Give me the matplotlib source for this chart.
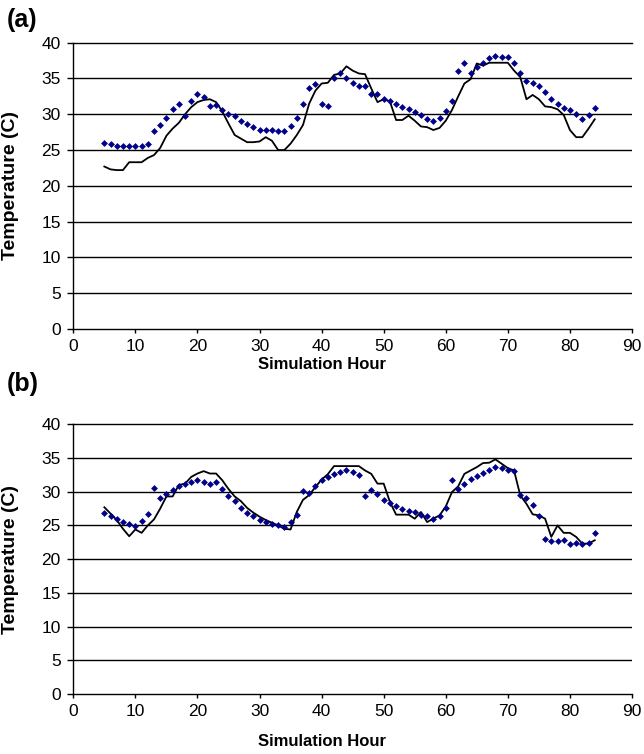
import matplotlib
matplotlib.use("Agg")
import matplotlib.pyplot as plt
import numpy as np

plt.rcParams['font.family'] = ['Liberation Sans', 'DejaVu Sans']

hours = list(range(5, 85))

# Panel (a)
a_measured = [26.0, 25.8, 25.5, 25.5, 25.5, 25.5, 25.5, 25.8, 27.6, 28.5,
              29.5, 30.7, 31.4, 29.7, 31.9, 32.8, 32.4, 31.1, 31.3, 30.6,
              30.05, 29.7, 29.1, 28.7, 28.2, 27.8,
              27.8, 27.8, 27.6, 27.6, 28.3, 29.5, 31.5, 33.7, 34.2, 31.4,
              31.2, 35.1, 35.8, 35.0, 34.4, 33.9, 33.9, 32.9, 32.9, 32.2,
              31.8, 31.4, 31.0, 30.7, 30.3, 29.9, 29.4, 29.1,
              29.5, 30.5, 31.8, 36.0, 37.1, 35.8, 36.6, 37.2, 37.9, 38.1,
              38.0, 38.0, 37.1, 35.8, 34.6, 34.3, 33.9, 33.1, 32.2, 31.5,
              30.9, 30.6, 30.0, 29.3, 29.9, 30.9]
a_simulated = [22.7, 22.3, 22.2, 22.2, 23.3, 23.3, 23.3, 23.9, 24.3, 25.3,
               27.0, 28.0, 28.8, 30.0, 31.0, 31.7, 32.0, 32.1, 31.7, 30.4,
               28.7, 27.1, 26.6, 26.1, 26.1,
               26.2, 26.8, 26.3, 25.0, 25.0, 25.9, 27.1, 28.5, 31.5, 33.3,
               34.3, 34.4, 35.5, 35.7, 36.7, 36.1, 35.7, 35.6, 33.6, 31.7,
               32.1, 31.8, 29.2, 29.2, 29.8, 29.1, 28.3, 28.2, 27.8,
               28.1, 29.1, 30.6, 32.5, 34.3, 34.9, 37.1, 36.8, 37.2, 37.2,
               37.2, 37.2, 36.1, 35.2, 32.1, 32.7, 32.1, 31.1, 31.0, 30.7,
               29.9, 27.8, 26.8, 26.8, 28.0, 29.3]

# Panel (b)
b_measured = [26.8, 26.35, 25.9, 25.5, 25.2, 24.9, 25.6, 26.65, 30.6, 29.0,
              29.65, 30.25, 30.8, 31.2, 31.5, 31.7, 31.5, 31.1, 31.4, 30.4,
              29.3, 28.6, 27.6, 26.9, 26.45, 25.8, 25.5,
              25.2, 25.0, 24.8, 25.5, 26.6, 30.15, 29.8, 30.9, 31.7, 32.2,
              32.6, 32.95, 33.15, 32.9, 32.5, 29.3, 30.3, 29.65, 28.8, 28.3,
              27.9, 27.5, 27.2, 27.0, 26.6, 26.35, 25.95,
              26.35, 27.6, 31.8, 30.4, 31.1, 31.9, 32.3, 32.75, 33.25, 33.65,
              33.5, 33.15, 33.0, 29.55, 29.05, 28.0, 26.35, 23.0, 22.65, 22.65,
              22.8, 22.2, 22.45, 22.3, 22.45, 23.9]
b_simulated = [27.7, 26.75, 25.8, 24.5, 23.4, 24.4, 23.9, 25.0, 25.9, 27.5,
               29.3, 29.3, 31.0, 31.2, 32.2, 32.7, 33.05, 32.7, 32.7, 31.7,
               30.4, 29.3, 28.6, 27.6, 26.9,
               26.3, 25.8, 25.4, 25.0, 24.5, 24.4, 27.0, 28.8, 29.5, 30.7,
               31.8, 32.6, 33.8, 33.8, 33.8, 33.8, 33.8, 33.15, 32.65, 31.2,
               31.2, 28.5, 26.6, 26.6, 26.6, 26.0, 27.0, 25.5,
               26.0, 26.5, 27.8, 29.95, 30.8, 32.65, 33.15, 33.65, 34.25, 34.3,
               34.8, 34.15, 33.5, 33.15, 29.45, 28.2, 26.65, 26.5, 26.0, 23.3,
               25.0, 23.9, 23.9, 23.3, 22.3, 22.3, 22.8]

x_ticks = list(range(0, 100, 10))
y_ticks = list(range(0, 45, 5))

W, H = 644, 754
fig = plt.figure(figsize=(W / 100, H / 100), dpi=100)

left_px, right_px = 73.3, 632.0
ax_a = fig.add_axes([left_px / W, (H - 329) / H, (right_px - left_px) / W, (329 - 42.7) / H])
ax_b = fig.add_axes([left_px / W, (H - 694) / H, (right_px - left_px) / W, (694 - 424.3) / H])

for ax, meas, sim in [(ax_a, a_measured, a_simulated), (ax_b, b_measured, b_simulated)]:
    ax.set_xlim(0, 90)
    ax.set_ylim(0, 40)
    ax.set_xticks(x_ticks)
    ax.set_yticks(y_ticks)
    for yv in y_ticks[1:-1]:
        ax.axhline(yv, color='black', lw=1.0, zorder=1)
    ax.plot(hours, sim, color='black', lw=1.3, zorder=3)
    ax.plot(hours, meas, linestyle='none', marker='D', markersize=3.5,
            markerfacecolor='#00008B', markeredgewidth=0, zorder=4)
    ax.spines['right'].set_visible(False)
    ax.spines['top'].set_linewidth(1.0)
    ax.spines['left'].set_linewidth(1.0)
    ax.spines['bottom'].set_linewidth(1.0)
    ax.tick_params(axis='y', direction='out', length=4, width=1.0, pad=5, labelsize=12.5)
    ax.tick_params(axis='x', direction='out', length=3, width=1.0, pad=4, labelsize=12.5)
    ax.set_ylabel('Temperature (C)', fontsize=14, fontweight='bold')
    ax.yaxis.set_label_coords((19 - left_px) / (right_px - left_px), 0.5)

fig.text(7 / W, 1 - 20 / H, '(a)', fontsize=18, fontweight='bold', ha='left', va='center')
fig.text(7 / W, 1 - 384 / H, '(b)', fontsize=18, fontweight='bold', ha='left', va='center')
fig.text(0.5, 1 - 365 / H, 'Simulation Hour', fontsize=12, fontweight='bold', ha='center', va='center')
fig.text(0.5, 1 - 742 / H, 'Simulation Hour', fontsize=12, fontweight='bold', ha='center', va='center')

fig.savefig('out.png', dpi=100)
